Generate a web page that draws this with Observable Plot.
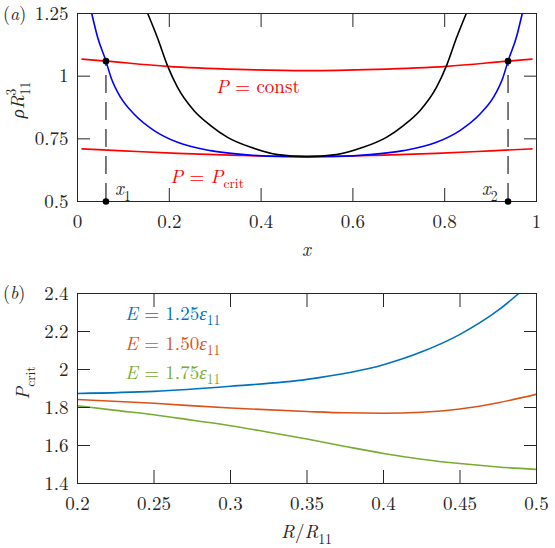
<!DOCTYPE html>
<html>
<head>
<meta charset="utf-8">
<script src="https://cdn.jsdelivr.net/npm/d3@7"></script>
<script src="https://cdn.jsdelivr.net/npm/@observablehq/plot@0.6"></script>
<style>
  body { margin: 0; background: #fff; }
  #chart { position: relative; width: 555px; height: 548px; background: #fff; }
  #chart svg { position: absolute; left: 0; }
  #chart svg text, #chart svg tspan { font-family: "Latin Modern Roman", "Liberation Serif", serif; }
</style>
</head>
<body>
<div id="chart"></div>
<script>
// ---------- Panel (a): density profiles rho*R11^3 against composition x ----------
const blueX = [0.031, 0.044, 0.062, 0.073, 0.094, 0.123, 0.167, 0.218, 0.29, 0.363, 0.436, 0.5,
               0.564, 0.637, 0.71, 0.782, 0.833, 0.877, 0.906, 0.927, 0.938, 0.956, 0.969];
const blueY = [1.25, 1.154, 1.06, 0.995, 0.915, 0.849, 0.783, 0.736, 0.703, 0.687, 0.680, 0.679,
               0.680, 0.687, 0.703, 0.736, 0.783, 0.849, 0.915, 0.995, 1.06, 1.154, 1.25];

const blackX = [0.153, 0.174, 0.196, 0.218, 0.254, 0.29, 0.327, 0.378, 0.436, 0.5,
                0.564, 0.622, 0.673, 0.71, 0.746, 0.782, 0.804, 0.826, 0.847];
const blackY = [1.25, 1.154, 1.042, 0.955, 0.862, 0.803, 0.756, 0.716, 0.687, 0.679,
                0.687, 0.716, 0.756, 0.803, 0.862, 0.955, 1.042, 1.154, 1.25];

const constX = [0.01, 0.062, 0.196, 0.35, 0.5, 0.65, 0.804, 0.938, 0.99];
const constY = [1.068, 1.06, 1.039, 1.027, 1.022, 1.027, 1.039, 1.06, 1.068];

const critX = [0.01, 0.1, 0.218, 0.35, 0.5, 0.65, 0.782, 0.9, 0.99];
const critY = [0.71, 0.702, 0.692, 0.684, 0.679, 0.684, 0.692, 0.702, 0.71];

// coexistence points x1, x2 on the P = const isobar
const coexX = [0.062, 0.938];
const coexY = [1.06, 1.06];

const xTicksA = [0, 0.2, 0.4, 0.6, 0.8, 1];
const yTicksA = [0.5, 0.75, 1, 1.25];

// ---------- Panel (b): critical pressure against R/R11 ----------
const r125 = [0.2, 0.25, 0.3, 0.35, 0.4, 0.425, 0.45, 0.475, 0.4884];
const p125 = [1.874, 1.885, 1.912, 1.948, 2.025, 2.093, 2.185, 2.312, 2.40];
const r150 = [0.2, 0.25, 0.3, 0.35, 0.375, 0.4, 0.425, 0.45, 0.475, 0.5];
const p150 = [1.842, 1.822, 1.797, 1.779, 1.772, 1.770, 1.775, 1.792, 1.825, 1.87];
const r175 = [0.2, 0.225, 0.25, 0.275, 0.3, 0.325, 0.35, 0.375, 0.4, 0.425, 0.45, 0.475, 0.5];
const p175 = [1.809, 1.785, 1.762, 1.733, 1.704, 1.67, 1.634, 1.595, 1.558, 1.528, 1.505, 1.487, 1.474];

const seriesB = ["1.25", "1.50", "1.75"];
const colorsB = ["#0072BD", "#D95319", "#77AC30"];
const legendY = [2.26, 2.102, 1.949];

const xTicksB = [0.2, 0.25, 0.3, 0.35, 0.4, 0.45, 0.5];
const yTicksB = [1.4, 1.6, 1.8, 2, 2.2, 2.4];

// ---------- helpers ----------
const FONT = '"Latin Modern Roman", "Liberation Serif", serif';
const INK = "#262626";
const SIZE = 19;
const fmt = d => String(d);
const none = () => "";
const pts = (xs, ys) => xs.map((x, i) => ({x, y: ys[i]}));

// boxed axes with inward ticks on all four sides
function boxAxes(xTicks, yTicks) {
  return [
    Plot.axisX({anchor: "bottom", ticks: xTicks, tickSize: -13, tickPadding: 26, tickFormat: fmt, label: null}),
    Plot.axisX({anchor: "top", ticks: xTicks, tickSize: -13, tickFormat: none, label: null}),
    Plot.axisY({anchor: "left", ticks: yTicks, tickSize: -13, tickPadding: 22, tickFormat: fmt, label: null}),
    Plot.axisY({anchor: "right", ticks: yTicks, tickSize: -13, tickFormat: none, label: null}),
    Plot.frame({stroke: INK, strokeWidth: 1})
  ];
}

// text with italic letters and sub/superscripts, built from tspans
function mathText(svg, parts, {x, y, anchor = "start", rotate = 0, fill = INK, size = SIZE}) {
  const t = d3.select(svg).append("text")
    .attr("transform", `translate(${x},${y}) rotate(${rotate})`)
    .attr("text-anchor", anchor)
    .attr("fill", fill)
    .style("font-family", FONT)
    .style("font-size", size + "px");
  let shift = 0;
  for (const p of parts) {
    const target = p.sub ? size * 0.3 : p.sup ? -size * 0.42 : 0;
    const ts = t.append("tspan").text(p.t);
    if (target !== shift) ts.attr("dy", target - shift);
    shift = target;
    if (p.i) ts.style("font-style", "italic");
    if (p.sub || p.sup) ts.style("font-size", (size * 0.72) + "px");
    if (p.dx) ts.attr("dx", p.dx);
  }
}

const style = `font-family: ${FONT}; font-size: ${SIZE}px; color: ${INK}; background: transparent; overflow: visible;`;
const CURVE = "monotone-x";

// ---------- panel (a) ----------
const plotA = Plot.plot({
  width: 555, height: 262,
  marginLeft: 77, marginRight: 19, marginTop: 13, marginBottom: 61,
  x: {domain: [0, 1]},
  y: {domain: [0.5, 1.25]},
  style,
  marks: [
    Plot.line(pts(constX, constY), {x: "x", y: "y", stroke: "#FF0000", strokeWidth: 1.6, curve: CURVE, clip: true}),
    Plot.line(pts(critX, critY), {x: "x", y: "y", stroke: "#FF0000", strokeWidth: 1.6, curve: CURVE, clip: true}),
    Plot.ruleX(coexX, {x: d => d, y1: 0.5, y2: (d, i) => coexY[i], stroke: "#222", strokeWidth: 1.2, strokeDasharray: "18,9"}),
    Plot.line(pts(blueX, blueY), {x: "x", y: "y", stroke: "#0000FF", strokeWidth: 1.6, curve: CURVE, clip: true}),
    Plot.line(pts(blackX, blackY), {x: "x", y: "y", stroke: "#000000", strokeWidth: 1.6, curve: CURVE, clip: true}),
    ...boxAxes(xTicksA, yTicksA),
    Plot.dot(pts(coexX, coexY), {x: "x", y: "y", r: 3.3, fill: "#000"}),
    Plot.dot(coexX, {x: d => d, y: 0.5, r: 3.3, fill: "#000"})
  ]
});
plotA.style.top = "0px";
document.getElementById("chart").appendChild(plotA);

{
  const sx = plotA.scale("x"), sy = plotA.scale("y");
  mathText(plotA, [{t: "("}, {t: "a", i: true}, {t: ")"}], {x: 3, y: 20, size: 18});
  mathText(plotA, [{t: "ρ", i: true}, {t: "R", i: true}, {t: "3", sup: true}, {t: "11", sub: true, dx: -6.8}],
           {x: 24, y: 100, anchor: "middle", rotate: -90});
  mathText(plotA, [{t: "x", i: true}], {x: sx.apply(0.5), y: 256, anchor: "middle"});
  mathText(plotA, [{t: "P", i: true}, {t: " = const"}],
           {x: sx.apply(0.303), y: sy.apply(0.931), fill: "#FF0000"});
  mathText(plotA, [{t: "P", i: true}, {t: " = "}, {t: "P", i: true}, {t: "crit", sub: true}],
           {x: sx.apply(0.203), y: sy.apply(0.573), fill: "#FF0000"});
  mathText(plotA, [{t: "x", i: true}, {t: "1", sub: true}], {x: sx.apply(0.083), y: sy.apply(0.524)});
  mathText(plotA, [{t: "x", i: true}, {t: "2", sub: true}], {x: sx.apply(0.882), y: sy.apply(0.524)});
}

// ---------- panel (b) ----------
const tableB = [[r125, p125], [r150, p150], [r175, p175]].flatMap(([rs, ps], k) =>
  rs.map((r, i) => ({r, p: ps[i], E: seriesB[k]})));

const plotB = Plot.plot({
  width: 555, height: 286,
  marginLeft: 77, marginRight: 19, marginTop: 31, marginBottom: 65,
  x: {domain: [0.2, 0.5]},
  y: {domain: [1.4, 2.4]},
  color: {domain: seriesB, range: colorsB},
  style,
  marks: [
    Plot.line(tableB, {x: "r", y: "p", z: "E", stroke: "E", strokeWidth: 1.6, curve: CURVE, clip: true}),
    ...boxAxes(xTicksB, yTicksB)
  ]
});
plotB.style.top = "262px";
document.getElementById("chart").appendChild(plotB);

{
  const sx = plotB.scale("x"), sy = plotB.scale("y");
  mathText(plotB, [{t: "("}, {t: "b", i: true}, {t: ")"}], {x: 3, y: 37, size: 18});
  mathText(plotB, [{t: "P", i: true}, {t: "crit", sub: true}],
           {x: 29, y: 121, anchor: "middle", rotate: -90});
  mathText(plotB, [{t: "R", i: true}, {t: "/"}, {t: "R", i: true}, {t: "11", sub: true}],
           {x: sx.apply(0.35), y: 276, anchor: "middle"});
  seriesB.forEach((e, k) => {
    mathText(plotB, [{t: "E", i: true}, {t: " = " + e}, {t: "ε", i: true}, {t: "11", sub: true}],
             {x: sx.apply(0.2314), y: sy.apply(legendY[k]), fill: colorsB[k]});
  });
}
</script>
</body>
</html>
